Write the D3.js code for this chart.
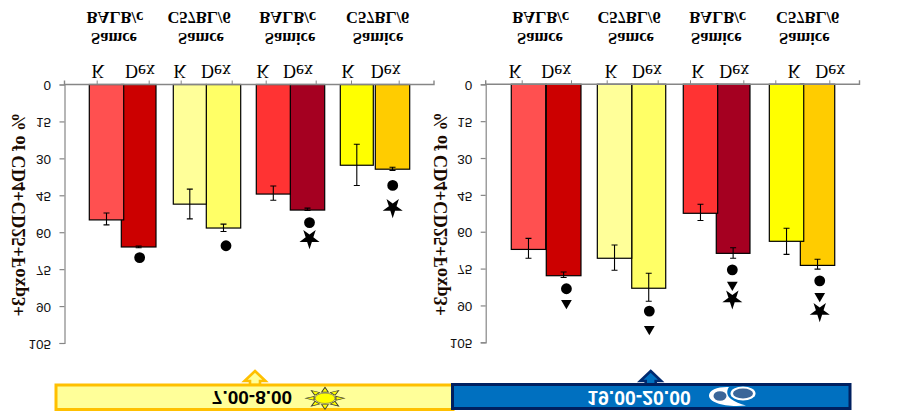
<!DOCTYPE html>
<html><head><meta charset="utf-8">
<script src="https://cdn.jsdelivr.net/npm/d3@7"></script>
<style>html,body{margin:0;padding:0;background:#fff}svg{display:block}</style>
</head><body><svg id="c" width="901" height="418"></svg>
<script>
// ---- data (percent of CD4+CD25+Foxp3+) ----
const strains = ["BALB/c","C57BL/6","BALB/c","C57BL/6"];
const sexes = ["Samce","Samce","Samice","Samice"];
const treatments = ["K","Dex"];
const yTicks = [0,15,30,45,60,75,90,105];
const kColors = ["#FF5050","#FFFF99","#FF3333","#FFFF00"];
const dColors = ["#CC0000","#FFFF66","#A50021","#FFCC00"];

const morningK = [55,48.6,44.5,32.8];
const morningKLow = [52.2,42.5,41.2,24.3];
const morningKHigh = [57,54.6,47,41];
const morningD = [66,58.3,51,34.4];
const morningDLow = [65.6,56.7,50.2,33.6];
const morningDHigh = [66.3,59.7,51.2,34.9];
const morningCircle = [70.3,65.5,56.1,41];
const morningTriangle = [null,null,null,null];
const morningStar = [null,null,62.6,50];

const eveningK = [67.2,70.8,52.5,63.9];
const eveningKLow = [62.7,65.4,48.8,58.6];
const eveningKHigh = [70.8,75.7,55.4,69.2];
const eveningD = [77.9,83,68.8,73.7];
const eveningDLow = [76.4,76.9,66.5,71.2];
const eveningDHigh = [78.6,88.3,70.8,75.2];
const eveningCircle = [83.2,92.3,75.5,80];
const eveningTriangle = [89,99.6,81.6,86.2];
const eveningStar = [null,null,87.4,92.5];

const yTitle = "% of CD4+CD25+Foxp3+";
const morningLabel = "7.00-8.00";
const eveningLabel = "19.00-20.00";

// ---- layout ----
const panels = [{
  k:morningK,kLow:morningKLow,kHigh:morningKHigh,d:morningD,dLow:morningDLow,dHigh:morningDHigh,
  circle:morningCircle,triangle:morningTriangle,star:morningStar,
  axisX:[64.5,434], yRange:[84.5,343], band:[81,417], titleX:25, titleY:214.5,
  kOff:[-33.7,-33.7,-34.7,-34.7], kW:[34.4,33,34,33],
  dOff:[-1.7,-0.7,-0.7,0.3], dW:[34.7,34.4,34.4,34.4],
  mNudge:[1,2.5,2,0.2],
  ticksX:[96.7,148.7,180.7,231.7,265.7,315.7,351,398.7],
  labelX:[98,140,180,216,263,298,348,385.7],
  strainX:[115,199,287.7,377.7], sexX:[114,201,290,378]
},{
  k:eveningK,kLow:eveningKLow,kHigh:eveningKHigh,d:eveningD,dLow:eveningDLow,dHigh:eveningDHigh,
  circle:eveningCircle,triangle:eveningTriangle,star:eveningStar,
  axisX:[485.7,859.5], yRange:[84.3,342.3], band:[503,846], titleX:447, titleY:214,
  kOff:[-34.6,-34.3,-34.1,-33.8], kW:[34.4,34.4,34.4,34.4],
  dOff:[0.4,0.1,-1.1,-2.8], dW:[34.7,34,33.7,34.4],
  mNudge:[2.8,0.6,-0.8,2.2],
  ticksX:[521.7,571,606.7,657.7,690,743.3,775.3,829.3],
  labelX:[515.3,556.3,611.3,647,698,734.3,794.3,830.3],
  strainX:[540.7,629,717.7,807.7], sexX:[540,631,716.3,804.3]
}];
const serif = "'Liberation Serif','Times New Roman',serif";
const sans = "'Liberation Sans',Arial,sans-serif";
const axisColor = "#868686";

const svg = d3.select("#c");
function flipText(g,x,y,str,size,weight,family,fill){
  return g.append("text").attr("transform",`translate(${x},${y}) scale(1,-1)`)
    .attr("text-anchor","middle").attr("font-family",family).attr("font-size",size)
    .attr("font-weight",weight).attr("fill",fill||"#000").text(str);
}

panels.forEach(p=>{
  const g = svg.append("g");
  const y = d3.scaleLinear().domain([0,105]).range(p.yRange);
  const x = d3.scaleBand().domain(d3.range(strains.length)).range(p.band);
  const c = i=>x(i)+x.bandwidth()/2;
  const dCenter = i=>c(i)+p.dOff[i]+p.dW[i]/2;
  const kCenter = i=>c(i)+p.kOff[i]+p.kW[i]/2;
  const drawBars = (vals,low,high,colors,off,w,center)=>{
    const idx = d3.range(vals.length);
    g.selectAll(null).data(idx).join("rect")
      .attr("x",i=>c(i)+off[i]).attr("width",i=>w[i])
      .attr("y",y(0)).attr("height",i=>y(vals[i])-y(0))
      .attr("fill",i=>colors[i]).attr("stroke","#000").attr("stroke-width",1.2);
    g.selectAll(null).data(idx).join("path")
      .attr("fill","none").attr("stroke","#000").attr("stroke-width",1.1)
      .attr("d",i=>{const cx=center(i),a=y(low[i]),b=y(high[i]);
        return `M${cx-3},${a}H${cx+3}M${cx},${a}V${b}M${cx-3},${b}H${cx+3}`;});
  };
  drawBars(p.d,p.dLow,p.dHigh,dColors,p.dOff,p.dW,dCenter);
  drawBars(p.k,p.kLow,p.kHigh,kColors,p.kOff,p.kW,kCenter);

  // axes
  const yAxis = d3.axisLeft(y).tickValues(yTicks).tickSize(5).tickPadding(0);
  const yG = g.append("g").attr("transform",`translate(${p.axisX[0]},0)`).call(yAxis);
  yG.select(".domain").attr("stroke",axisColor).attr("stroke-width",1.2);
  yG.selectAll(".tick line").attr("stroke",axisColor).attr("stroke-width",1.2);
  yG.selectAll(".tick text")
    .attr("x",null).attr("dy",null)
    .attr("transform","translate(-13.5,-3.8) scale(1,-1)")
    .attr("font-family",sans).attr("font-size",13.5).attr("fill","#111").attr("text-anchor","end");

  const tickNames = d3.range(p.ticksX.length);
  const xTick = d3.scaleOrdinal().domain(tickNames).range(p.ticksX);
  const xG = g.append("g").attr("transform",`translate(0,${p.yRange[0]})`)
    .call(d3.axisTop(xTick).tickSize(4).tickFormat(""));
  xG.select(".domain").remove();
  xG.selectAll(".tick line").attr("stroke",axisColor).attr("stroke-width",1);
  xG.append("path").attr("d",`M${p.axisX[0]},-4V0H${p.axisX[1]}V-4`)
    .attr("fill","none").attr("stroke",axisColor).attr("stroke-width",1.4);

  // labels
  p.labelX.forEach((lx,i)=>flipText(g,lx,65,treatments[i%2],18,"normal",serif));
  strains.forEach((s,i)=>flipText(g,p.strainX[i],11.5,s,16.5,"bold",serif));
  sexes.forEach((s,i)=>flipText(g,p.sexX[i],32.5,s,16.5,"bold",serif));
  g.append("text").attr("transform",`translate(${p.titleX},${p.titleY}) scale(1,-1) rotate(-90)`)
    .attr("text-anchor","middle").attr("font-family",serif).attr("font-weight","bold")
    .attr("font-size",18.4).attr("fill","#1a0a00").text(yTitle);

  // significance markers
  const marks = [[p.circle,d3.symbolCircle,92],[p.triangle,d3.symbolTriangle,50],[p.star,d3.symbolStar,125]];
  marks.forEach(([vals,type,size])=>{
    const sym = d3.symbol().type(type).size(size);
    vals.forEach((v,i)=>{
      if(v==null) return;
      g.append("path").attr("d",sym())
        .attr("transform",`translate(${dCenter(i)+p.mNudge[i]},${y(v)}) scale(1,-1)`)
        .attr("fill","#000");
    });
  });
});

// banners
function arrow(cx){
  return `M${cx},371L${cx+10.5},381H${cx+5}V385H${cx-5}V381H${cx-10.5}Z`;
}
svg.append("path").attr("d",arrow(255)).attr("fill","#FFFF99").attr("stroke","#FFC000").attr("stroke-width",2.6);
svg.append("rect").attr("x",56).attr("y",385).attr("width",397).attr("height",24.5)
  .attr("fill","#FFFF99").attr("stroke","#FFC000").attr("stroke-width",3);
svg.append("path").attr("d",arrow(650.7)).attr("fill","#0070C0").attr("stroke","#002A70").attr("stroke-width",2.6);
svg.append("rect").attr("x",452.5).attr("y",384.5).attr("width",397.5).attr("height",24)
  .attr("fill","#0070C0").attr("stroke","#002060").attr("stroke-width",3);
flipText(svg,252,391,morningLabel,19,"bold",sans,"#000");
flipText(svg,639,390.5,eveningLabel,19.4,"bold",sans,"#fff");

// sun
const sun = svg.append("g").attr("transform","translate(325,398.3) scale(1.75,1)");
d3.range(8).forEach(i=>{
  const a=i*Math.PI/4, pt=(r,t)=>[r*Math.cos(t),r*Math.sin(t)];
  sun.append("path").attr("d",d3.line()([pt(6.5,a-0.3),pt(11,a),pt(6.5,a+0.3)])+"Z")
    .attr("fill","#FFFF00").attr("stroke","#333").attr("stroke-width",0.6);
});
svg.append("ellipse").attr("cx",325).attr("cy",398.3).attr("rx",10).attr("ry",5.2)
  .attr("fill","#FFFF00").attr("stroke","#555").attr("stroke-width",0.6);

// cloud
const cl = svg.append("g");
cl.append("path").attr("fill","#fff")
  .attr("d","M746,405.5C726,407.5 709,403 709,395.5C709,390 718,386.5 729,387C726,391 727,396 731,399C735,402 740,404 746,405.5Z");
cl.append("ellipse").attr("cx",720).attr("cy",396).attr("rx",6.5).attr("ry",4.8).attr("fill","#3B6699");
cl.append("ellipse").attr("cx",743).attr("cy",393.5).attr("rx",12.5).attr("ry",7).attr("fill","#fff");
cl.append("ellipse").attr("cx",743).attr("cy",393.5).attr("rx",10).attr("ry",5).attr("fill","#3B6699");
</script></body></html>
